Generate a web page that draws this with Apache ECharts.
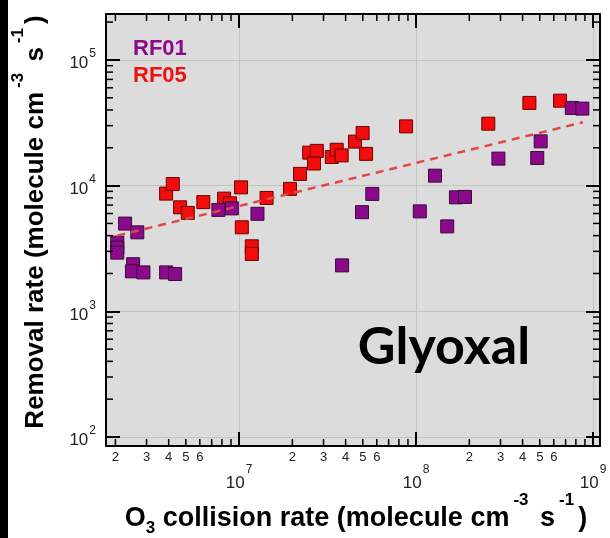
<!DOCTYPE html>
<html><head><meta charset="utf-8">
<script src="https://cdn.jsdelivr.net/npm/echarts@6/dist/echarts.min.js"></script>
<style>html,body{margin:0;padding:0;background:#fff}#c{width:610px;height:538px}</style>
</head><body><div id="c"></div>
<script>
const seriesNames = ['RF01', 'RF05'];
const rf01X = [2.05e6, 2.05e6, 2.05e6, 2.27e6, 2.66e6, 2.52e6, 2.48e6, 2.88e6, 3.87e6, 4.35e6, 7.64e6, 9.1e6, 1.27e7, 3.82e7, 4.95e7, 5.66e7, 1.05e8, 1.28e8, 1.50e8, 1.68e8, 1.89e8, 2.92e8, 4.84e8, 5.06e8, 7.59e8, 8.70e8];
const rf01Y = [3.52e3, 3.21e3, 2.93e3, 4.99e3, 4.25e3, 2.37e3, 2.08e3, 2.04e3, 2.04e3, 1.98e3, 6.41e3, 6.59e3, 5.97e3, 2.32e3, 6.15e3, 8.59e3, 6.24e3, 1.20e4, 4.74e3, 8.07e3, 8.13e3, 1.64e4, 1.66e4, 2.25e4, 4.15e4, 4.10e4];
const rf05X = [3.87e6, 4.22e6, 4.64e6, 5.13e6, 6.28e6, 8.23e6, 8.89e6, 1.026e7, 1.036e7, 1.18e7, 1.18e7, 1.43e7, 1.94e7, 2.21e7, 2.49e7, 2.75e7, 2.65e7, 3.34e7, 3.56e7, 3.80e7, 4.52e7, 4.99e7, 5.22e7, 8.78e7, 2.56e8, 4.37e8, 6.51e8];
const rf05Y = [8.64e3, 1.03e4, 6.72e3, 6.07e3, 7.39e3, 7.88e3, 7.23e3, 9.69e3, 4.66e3, 3.29e3, 2.86e3, 7.98e3, 9.42e3, 1.24e4, 1.83e4, 1.89e4, 1.50e4, 1.69e4, 1.93e4, 1.74e4, 2.24e4, 2.62e4, 1.79e4, 2.96e4, 3.11e4, 4.55e4, 4.74e4];
const trendX = [2.05e6, 8.77e8];
const trendY = [4.0e3, 3.19e4];
const xMinorTicks = [2e6,3e6,4e6,5e6,6e6,7e6,8e6,9e6, 2e7,3e7,4e7,5e7,6e7,7e7,8e7,9e7, 2e8,3e8,4e8,5e8,6e8,7e8,8e8,9e8];
const xMinorLabels = ['2','3','4','5','6','','','', '2','3','4','5','6','','','', '2','3','4','5','6','','',''];
const yMinorTicks = [2e2,3e2,4e2,5e2,6e2,7e2,8e2,9e2, 2e3,3e3,4e3,5e3,6e3,7e3,8e3,9e3, 2e4,3e4,4e4,5e4,6e4,7e4,8e4,9e4, 2e5];
const xTitle = '{m|O}{sub|3}{m| collision rate (molecule cm}{sup|-3}{m| s}{sup|-1}{m|)}';
const yTitle = '{m|Removal rate (molecule cm}{sup|-3}{m| s}{sup|-1}{m|)}';
const panelLabel = 'Glyoxal';

const xMin = 1.77e6, xMax = 1.095e9, yMin = 84.8, yMax = 2.32e5;
const zip = (a, b) => a.map((v, i) => [v, b[i]]);
const F = '"Liberation Sans", Arial, sans-serif';

const expLabel = v => '{b|10}{s|' + Math.round(Math.log10(v)) + '}';
const xLabelRich = { b: { fontSize: 17, fontFamily: F, color: '#222', verticalAlign: 'bottom', lineHeight: 28 }, s: { fontSize: 12, fontFamily: F, color: '#222', verticalAlign: 'top', lineHeight: 28, padding: [0, 0, 0, 1] } };
const yLabelRich = { b: { fontSize: 17, fontFamily: F, color: '#222', verticalAlign: 'bottom', lineHeight: 24 }, s: { fontSize: 12, fontFamily: F, color: '#222', verticalAlign: 'top', lineHeight: 24, padding: [0, 0, 0, 1] } };

const baseAxis = (extra) => Object.assign({
  type: 'log', logBase: 10,
  axisLine: { show: true, onZero: false, lineStyle: { color: '#000', width: 2 } },
  axisTick: { show: true, inside: true, length: 14, lineStyle: { color: '#000', width: 2 } },
  splitLine: { show: false },
  axisLabel: { show: false }
}, extra);

const chart = echarts.init(document.getElementById('c'), null, { renderer: 'canvas' });
chart.setOption({
  animation: false,
  backgroundColor: '#fff',
  grid: { left: 106, right: 10, top: 14, bottom: 92, show: true, backgroundColor: '#dcdcdc', borderWidth: 0 },
  legend: {
    data: [{ name: seriesNames[0], textStyle: { color: '#8b0a8b' } }, { name: seriesNames[1], textStyle: { color: '#ee1111' } }],
    orient: 'vertical', left: 123, top: 33, icon: 'none', itemWidth: 0, itemHeight: 22, itemGap: 5,
    selectedMode: false,
    textStyle: { fontSize: 22, fontWeight: 'bold', fontFamily: F }
  },
  xAxis: [
    baseAxis({ position: 'bottom', min: xMin, max: xMax,
      splitLine: { show: true, lineStyle: { color: '#c4c4c4', width: 1 } },
      axisLabel: { show: true, showMinLabel: false, showMaxLabel: false, margin: 18, formatter: expLabel, rich: xLabelRich } }),
    baseAxis({ position: 'top', min: xMin, max: xMax })
  ],
  yAxis: [
    baseAxis({ position: 'left', min: yMin, max: yMax,
      splitLine: { show: true, lineStyle: { color: '#c4c4c4', width: 1 } },
      axisLabel: { show: true, showMinLabel: false, showMaxLabel: false, margin: 10, formatter: expLabel, rich: yLabelRich } }),
    baseAxis({ position: 'right', min: yMin, max: yMax })
  ],
  series: [
    { name: seriesNames[0], type: 'scatter', data: zip(rf01X, rf01Y), symbol: 'rect', symbolSize: 13,
      itemStyle: { color: '#8b0a8b', borderColor: '#3a0a3a', borderWidth: 1, opacity: 1 }, z: 4 },
    { name: seriesNames[1], type: 'scatter', data: zip(rf05X, rf05Y), symbol: 'rect', symbolSize: 13,
      itemStyle: { color: '#f20c0c', borderColor: '#6e0000', borderWidth: 1, opacity: 1 }, z: 3 },
    { name: 'fit', type: 'line', data: zip(trendX, trendY), symbol: 'none', z: 5,
      lineStyle: { color: '#e04848', width: 2.5, type: [8, 6] } },
    { name: 'xminor', type: 'custom', clip: false, silent: true, z: 6,
      data: xMinorTicks.map(v => [v, 1000]),
      renderItem: (params, api) => {
        const cs = params.coordSys;
        const x = api.coord([api.value(0), api.value(1)])[0];
        const b = cs.y + cs.height, t = cs.y;
        const ch = [
          { type: 'line', shape: { x1: x, y1: b, x2: x, y2: b - 7 }, style: { stroke: '#000', lineWidth: 1.5 } },
          { type: 'line', shape: { x1: x, y1: t, x2: x, y2: t + 7 }, style: { stroke: '#000', lineWidth: 1.5 } }
        ];
        const lab = xMinorLabels[params.dataIndex];
        if (lab) ch.push({ type: 'text', style: { text: lab, x: x, y: b + 5, fill: '#222', fontSize: 13, fontFamily: F, align: 'center', verticalAlign: 'top' } });
        return { type: 'group', children: ch };
      } },
    { name: 'yminor', type: 'custom', clip: false, silent: true, z: 6,
      data: yMinorTicks.map(v => [1e7, v]),
      renderItem: (params, api) => {
        const cs = params.coordSys;
        const y = api.coord([api.value(0), api.value(1)])[1];
        const l = cs.x, r = cs.x + cs.width;
        return { type: 'group', children: [
          { type: 'line', shape: { x1: l, y1: y, x2: l + 7, y2: y }, style: { stroke: '#000', lineWidth: 1.5 } },
          { type: 'line', shape: { x1: r, y1: y, x2: r - 7, y2: y }, style: { stroke: '#000', lineWidth: 1.5 } }
        ] };
      } }
  ],
  graphic: [
    { type: 'rect', left: 0, top: 0, shape: { width: 8, height: 538 }, style: { fill: '#000' }, z: 10 },
    { type: 'text', x: 356, y: 537, z: 10, style: { text: xTitle, align: 'center', verticalAlign: 'bottom',
      rich: { m: { fontSize: 27, fontWeight: 'bold', fontFamily: F, fill: '#000', lineHeight: 45, verticalAlign: 'bottom', padding: [0, 0, 5, 0] },
              sub: { fontSize: 17, fontWeight: 'bold', fontFamily: F, fill: '#000', lineHeight: 45, verticalAlign: 'bottom' },
              sup: { fontSize: 17, fontWeight: 'bold', fontFamily: F, fill: '#000', lineHeight: 45, verticalAlign: 'top', padding: [0, 4, 0, 4] } } } },
    { type: 'text', x: 10, y: 222, rotation: Math.PI / 2, z: 10, style: { text: yTitle, align: 'center', verticalAlign: 'top',
      rich: { m: { fontSize: 26, fontWeight: 'bold', fontFamily: F, fill: '#000', lineHeight: 44, verticalAlign: 'bottom', padding: [0, 0, 5, 0] },
              sup: { fontSize: 17, fontWeight: 'bold', fontFamily: F, fill: '#000', lineHeight: 44, verticalAlign: 'top', padding: [0, 4, 0, 4] } } } },
    { type: 'text', x: 444, y: 347, z: 10, style: { text: panelLabel, align: 'center', verticalAlign: 'middle',
      fontSize: 52, fontWeight: 'bold', fontFamily: 'Lato, "Open Sans", sans-serif', fill: '#000' } }
  ]
});
</script></body></html>
